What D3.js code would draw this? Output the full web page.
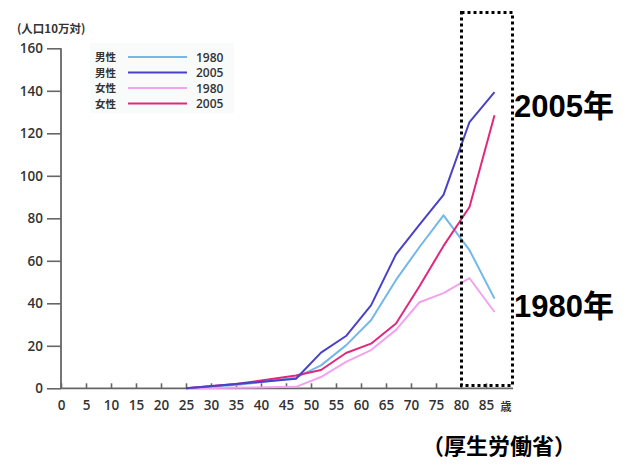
<!DOCTYPE html>
<html><head><meta charset="utf-8">
<script src="https://cdn.jsdelivr.net/npm/d3@7/dist/d3.min.js"></script>
<style>
body{margin:0;background:#fff;}
svg{display:block;}
</style></head>
<body>
<svg id="c" width="630" height="470"></svg>
<script>
// Data
const ages        = [25, 35, 47, 52, 57, 62, 67, 71.7, 76.5, 81.7, 86.7];
const male1980    = [0, 1.5, 5, 10.8, 20.2, 32, 51, 66.5, 81.4, 65, 42.2];
const male2005    = [0, 2, 4.5, 16.8, 24.6, 39, 63, 77, 91, 125.3, 139.4];
const female1980  = [0, 0.3, 0.7, 5.3, 12.4, 18, 27.5, 40.5, 44.8, 51.8, 35.9];
const female2005  = [0, 2, 6, 8.6, 16.6, 21, 30.5, 48, 67, 85.3, 128.5];
const xTicks = [0,5,10,15,20,25,30,35,40,45,50,55,60,65,70,75,80,85];
const yTicks = [0,20,40,60,80,100,120,140,160];
const seriesNames = ["男性","男性","女性","女性"];
const seriesYears = ["1980","2005","1980","2005"];
const seriesColors = ["#72b8e8","#4a42c6","#f2a2ef","#e0287c"];
const seriesValues = [male1980, male2005, female1980, female2005];

const svg = d3.select("#c");
const x = d3.scaleLinear().domain([0, 90.4]).range([61, 513]);
const y = d3.scaleLinear().domain([0, 160]).range([388.3, 48.3]);
const numFont = "'Open Sans', 'Noto Sans', sans-serif";
const cjkFont = "'Noto Sans CJK JP', sans-serif";

// faint legend background
svg.append("rect").attr("x", 90).attr("y", 43).attr("width", 144).attr("height", 70)
  .attr("fill", "#f9fafa");

// Y axis
const yAxis = d3.axisLeft(y).tickValues(yTicks).tickSize(14).tickPadding(4);
const gy = svg.append("g").attr("transform", "translate(61,0)").call(yAxis);
gy.select(".domain").attr("stroke", "#666").attr("stroke-width", 1.8).attr("d", `M0,${y(160)}V${y(0)}`);
gy.selectAll(".tick line").attr("stroke", "#666").attr("stroke-width", 1.6);
gy.selectAll(".tick text").attr("fill", "#333").style("font-family", numFont)
  .style("font-size", "13.5px").style("font-weight", "600");

// X axis
const xAxis = d3.axisBottom(x).tickValues(xTicks).tickSize(-5).tickPadding(12);
const gx = svg.append("g").attr("transform", `translate(0,${y(0)})`).call(xAxis);
gx.select(".domain").attr("stroke", "#666").attr("stroke-width", 1.8).attr("d", `M${x(0)},0H513`);
gx.selectAll(".tick line").attr("stroke", "#666").attr("stroke-width", 1.6);
gx.selectAll(".tick text").attr("fill", "#333").style("font-family", numFont)
  .style("font-size", "13.5px").style("font-weight", "600");
svg.append("text").attr("x", 506).attr("y", 411).attr("text-anchor", "middle")
  .attr("fill", "#333").style("font-family", cjkFont).style("font-size", "11px")
  .style("font-weight", "700").text("歳");

// Y title
svg.append("text").attr("x", 17).attr("y", 33).attr("fill", "#333")
  .style("font-family", cjkFont).style("font-size", "11.5px").style("font-weight", "700")
  .text("(人口10万対)");

// Lines
const line = d3.line().x((d, i) => x(ages[i])).y(d => y(d));
[2, 0, 3, 1].forEach(k => {
  svg.append("path").datum(seriesValues[k]).attr("d", line)
    .attr("fill", "none").attr("stroke", seriesColors[k]).attr("stroke-width", 2)
    .attr("stroke-linejoin", "round");
});

// Legend
const rowY = [57, 72.5, 88, 103.5];
seriesNames.forEach((n, i) => {
  svg.append("text").attr("x", 95).attr("y", rowY[i] + 4).attr("fill", "#333")
    .style("font-family", cjkFont).style("font-size", "10.5px").style("font-weight", "700").text(n);
  svg.append("line").attr("x1", 128).attr("x2", 187).attr("y1", rowY[i]).attr("y2", rowY[i])
    .attr("stroke", seriesColors[i]).attr("stroke-width", 2);
  svg.append("text").attr("x", 196).attr("y", rowY[i] + 4.5).attr("fill", "#333")
    .style("font-family", numFont).style("font-size", "12px").style("font-weight", "600").text(seriesYears[i]);
});

// Dotted highlight box
svg.append("rect").attr("x", 461.5).attr("y", 12.5).attr("width", 51).attr("height", 373)
  .attr("fill", "none").attr("stroke", "#000").attr("stroke-width", 3)
  .attr("stroke-dasharray", "3,3");

// Big annotations
const bigFont = "'Liberation Sans', Arial, 'Noto Sans CJK JP', sans-serif";
[["2005年", 117], ["1980年", 317]].forEach(([t, by]) => {
  const tx = svg.append("text").attr("x", 514).attr("y", by).attr("fill", "#000")
    .style("font-family", bigFont).style("font-size", "31px").style("font-weight", "700");
  tx.append("tspan").text(t.slice(0, 4));
  tx.append("tspan").style("font-family", cjkFont).text(t.slice(4));
});

// Source
svg.append("text").attr("x", 422).attr("y", 454).attr("fill", "#000")
  .style("font-family", cjkFont).style("font-size", "22px").style("font-weight", "700")
  .text("（厚生労働省）");
</script>
</body></html>
